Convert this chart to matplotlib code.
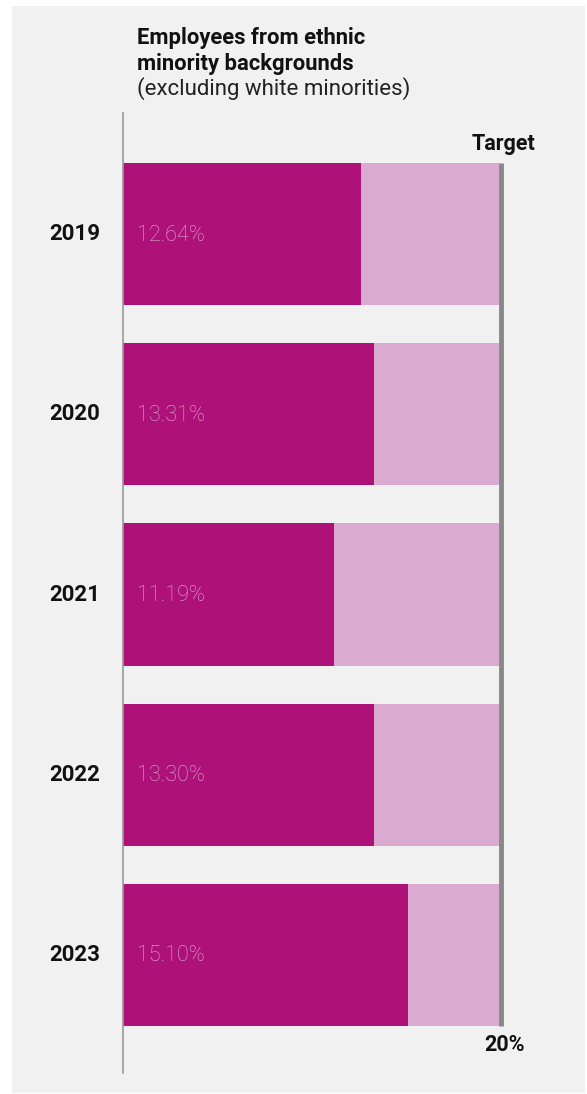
import matplotlib.pyplot as plt
from matplotlib.patches import Rectangle

# share of employees from ethnic minority backgrounds, % (excl. white minorities)
years = ['2019', '2020', '2021', '2022', '2023']
values = [12.64, 13.31, 11.19, 13.30, 15.10]
target = 20

dark = '#ae1279'
light = '#dbaad0'
bg = '#f1f1f1'

plt.rcParams['font.family'] = ['Roboto', 'DejaVu Sans']

W, H = 587, 1094
fig = plt.figure(figsize=(W / 100, H / 100), dpi=100, facecolor='white')

# grey panel behind everything
fig.add_artist(Rectangle((12 / W, 1 - 1093 / H), 573 / W, 1087 / H,
                         transform=fig.transFigure, facecolor=bg,
                         edgecolor='none', zorder=-1))

# axes spans x 123..500 px (0..20%) and y 113..1073 px
ax = fig.add_axes([123 / W, 1 - 1073 / H, 377 / W, 960 / H])
ax.set_zorder(1)
ax.set_facecolor('none')
ax.set_xlim(0, target)
ax.set_ylim(4 + (1073 - 955) / 180, -(234 - 113) / 180)

pos = list(range(len(years)))
bar_h = 142 / 180
ax.barh(pos, [target] * len(pos), height=bar_h, color=light, zorder=1)
ax.barh(pos, values, height=bar_h, color=dark, zorder=2)

for p, y, v in zip(pos, years, values):
    ax.text(0.74, p + 0.005, f'{v:.2f}%', color=light, fontsize=15.5,
            fontweight='light', ha='left', va='center', zorder=3)
    ax.text(-1.2, p, y, fontsize=16, fontweight='bold', color='#111111',
            ha='right', va='center')

# target marker
top = pos[0] - bar_h / 2
bottom = pos[-1] + bar_h / 2
ax.plot([target + 0.06, target + 0.06], [top, bottom], color='#888888',
        lw=3.5, solid_capstyle='butt', clip_on=False, zorder=4)
ax.text(target + 1.9, top - 13 / 180, 'Target', fontsize=15.5, fontweight='bold',
        color='#111111', ha='right', va='baseline')
ax.text(target + 1.3, bottom + 25 / 180, '20%', fontsize=15.5, fontweight='bold',
        color='#111111', ha='right', va='baseline')

for s in ['top', 'right', 'bottom']:
    ax.spines[s].set_visible(False)
ax.spines['left'].set_color('#999999')
ax.spines['left'].set_linewidth(1.2)
ax.set_xticks([])
ax.set_yticks([])

fig.text(137 / W, 1 - 44 / H, 'Employees from ethnic', fontsize=15.8,
         fontweight='bold', color='#111111', va='baseline')
fig.text(137 / W, 1 - 70 / H, 'minority backgrounds', fontsize=15.8,
         fontweight='bold', color='#111111', va='baseline')
fig.text(137 / W, 1 - 95 / H, '(excluding white minorities)', fontsize=16,
         fontweight='normal', color='#222222', va='baseline')

fig.savefig('out.png', dpi=100, facecolor='white')
